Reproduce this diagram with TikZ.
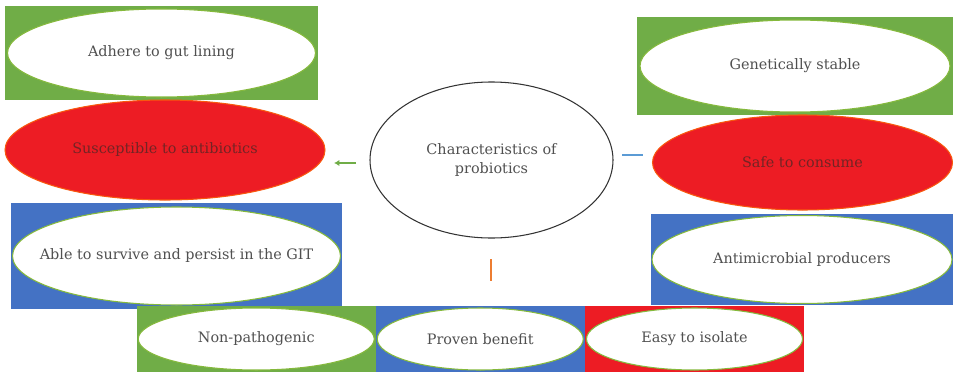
\documentclass[tikz,border=0pt]{standalone}
\usepackage{fontspec}
\setmainfont{DejaVu Serif}
\usepackage{xcolor}
\usetikzlibrary{
    shapes.geometric,
    arrows.meta
}
\definecolor{offgreen}{RGB}{112,173,71}
\definecolor{offblue}{RGB}{68,114,196}
\definecolor{offred}{RGB}{237,28,36}
\definecolor{offorange}{RGB}{237,125,49}
\definecolor{lineblue}{RGB}{91,155,213}
\definecolor{txtgrey}{RGB}{80,80,80}
\definecolor{txtred}{RGB}{115,36,36}
\newcommand{\oneline}[1]{\makebox[0pt]{#1}}

\begin{document}
\begin{tikzpicture}[
        x=0.02cm, y=-0.02cm,
        size/.style 2 args={minimum width=#1*0.02cm, minimum height=#2*0.02cm},
        panel/.style={rectangle, inner sep=0pt, fill=#1},
        oval/.style={ellipse, inner sep=0pt, fill=white, draw=offgreen!85!yellow, line width=0.6pt, text=txtgrey, font=\fontsize{8.2}{10}\selectfont},
        redoval/.style={oval, fill=offred, draw=orange!60!offred, text=txtred},
        hub/.style={ellipse, inner sep=0pt, draw=black!80, line width=0.6pt, align=center, text=txtgrey, font=\fontsize{8.2}{11.3}\selectfont},
        link/.style={line width=1pt}
    ]
        \useasboundingbox (0,0) rectangle (953,372);

        % left column
        \node[panel=offgreen, size={313}{94}] (adhere_bg) at (161.5,53) {};
        \node[oval, size={308}{88}] (adhere) at (adhere_bg) {\oneline{Adhere to gut lining}};

        \node[redoval, size={320}{100}] (suscept) at (165,150) {\oneline{Susceptible to antibiotics}};

        \node[panel=offblue, size={331}{106}] (survive_bg) at (176.5,256) {};
        \node[oval, size={328}{98}] (survive) at (survive_bg) {\oneline{Able to survive and persist in the GIT}};

        % right column
        \node[panel=offgreen, size={316}{98}] (stable_bg) at (795,66) {};
        \node[oval, size={310}{92}] (stable) at (stable_bg) {\oneline{Genetically stable}};

        \node[redoval, size={300}{95}] (safe) at (802.5,162.5) {\oneline{Safe to consume}};

        \node[panel=offblue, size={302}{91}] (antimicro_bg) at (802,259.5) {};
        \node[oval, size={300}{88}] (antimicro) at (antimicro_bg) {\oneline{Antimicrobial producers}};

        % bottom row
        \node[panel=offgreen, size={238.5}{66}] (nonpath_bg) at (256.25,339) {};
        \node[oval, size={236}{62}] (nonpath) at (nonpath_bg) {\oneline{Non-pathogenic}};

        \node[panel=offblue, size={209.5}{66}] (proven_bg) at (480.25,339) {};
        \node[oval, size={206}{62}] (proven) at (proven_bg) {\oneline{Proven benefit}};

        \node[panel=offred, size={219}{66}] (isolate_bg) at (694.5,339) {};
        \node[oval, size={216}{62}] (isolate) at (isolate_bg) {\oneline{Easy to isolate}};

        % centre
        \node[hub, size={243}{156}] (hub) at (491.5,160) {Characteristics of\\probiotics};

        \coordinate (green_from) at (356,163);
        \coordinate (green_to) at (334,163);
        \coordinate (blue_from) at (622,155);
        \coordinate (blue_to) at (643,155);
        \coordinate (orange_from) at (491,259);
        \coordinate (orange_to) at (491,281);

        \draw[link, draw=offgreen, -{Latex[length=3pt, width=3.5pt]}] (green_from) -- (green_to);
        \draw[link, draw=lineblue] (blue_from) -- (blue_to);
        \draw[link, draw=offorange] (orange_from) -- (orange_to);
    \end{tikzpicture}
\end{document}
